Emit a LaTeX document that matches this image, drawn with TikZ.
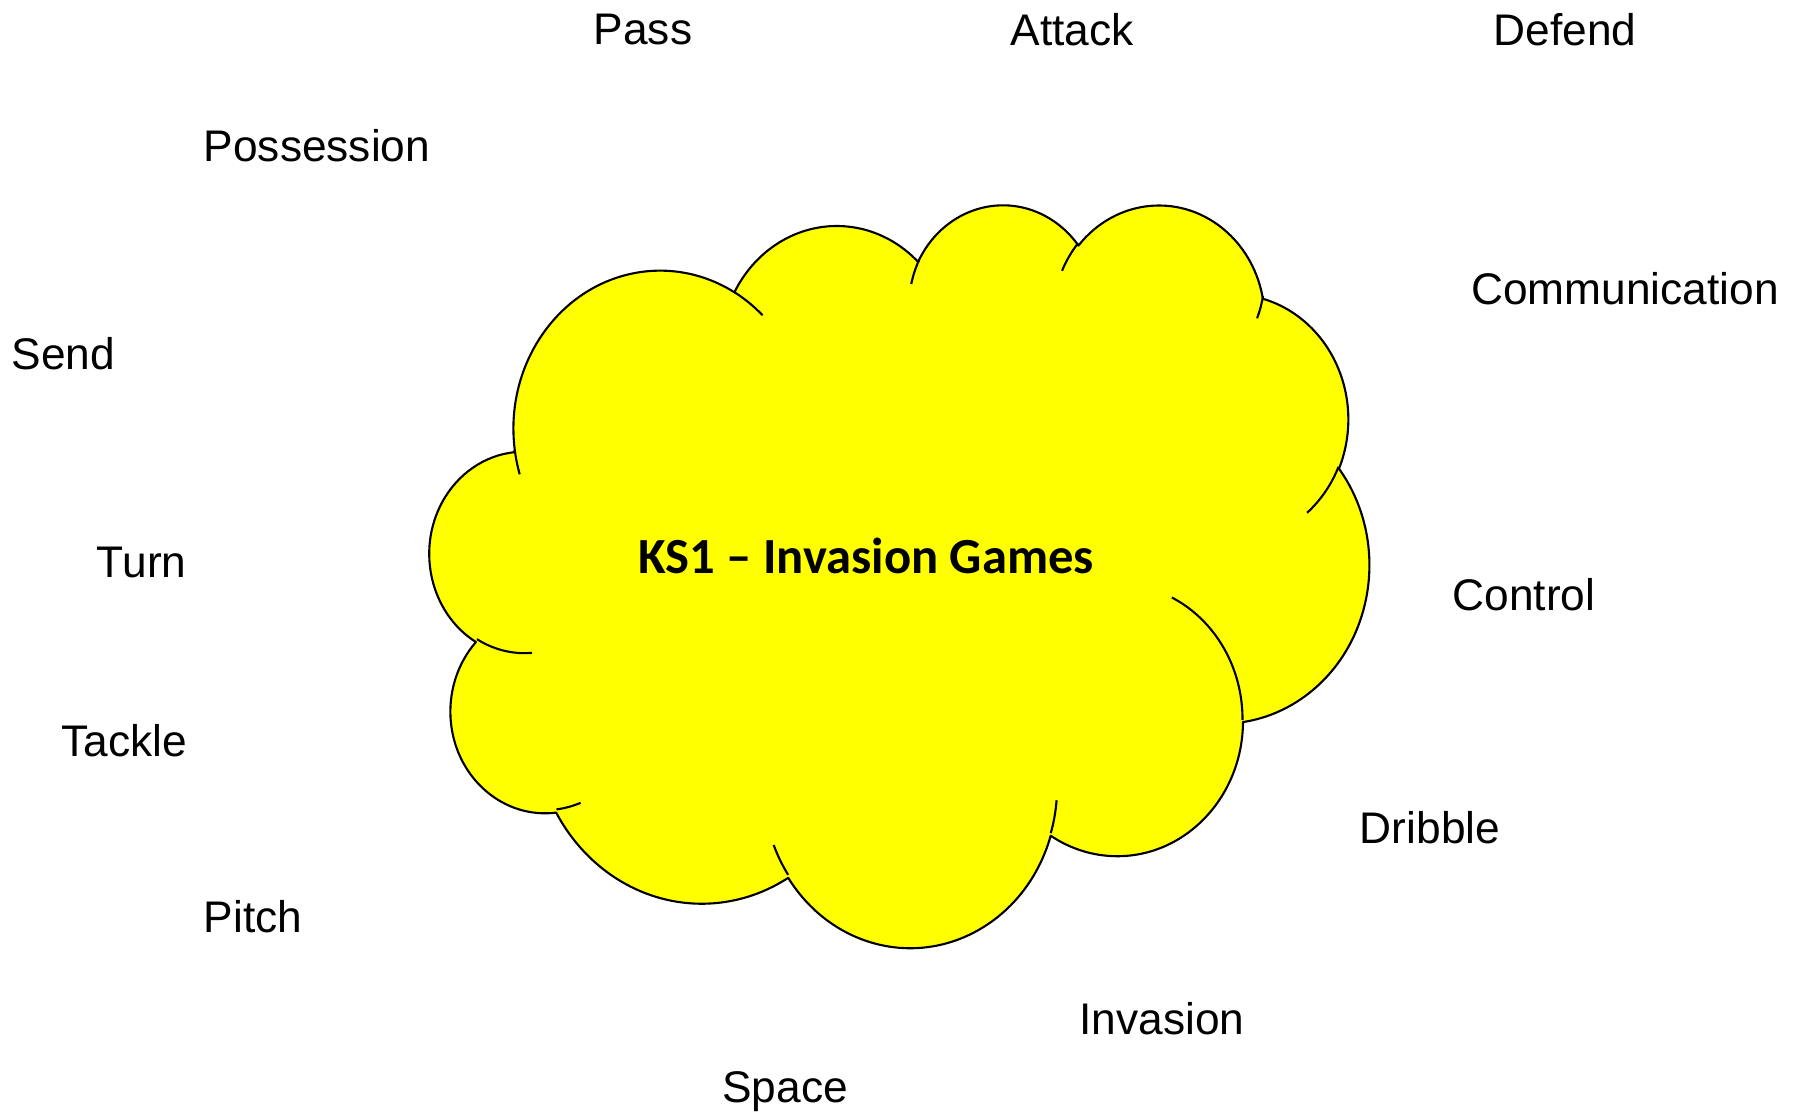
\documentclass[tikz,border=0pt]{standalone}
\usepackage{fontspec}
\setmainfont{Liberation Sans}
\newfontfamily\titlefont{Carlito}
\definecolor{cloudyellow}{RGB}{255,255,0}

\begin{document}
\begin{tikzpicture}[
  word/.style={inner sep=0pt, anchor=base, font=\fontsize{12.6pt}{15pt}\selectfont},
  topic/.style={inner sep=0pt, anchor=base, font=\titlefont\bfseries\fontsize{14.4pt}{17pt}\selectfont},
  cloudline/.style={draw=black, line width=0.6pt, line join=round}
]
\useasboundingbox (0,0) rectangle (18.09,11.15);

% cloud outline, box coordinates in thousandths
\begin{scope}[shift={(4.30,9.121)}, xscale=0.21736, yscale=-0.17190]
\filldraw[cloudline, fill=cloudyellow] (3.9,14.37)
  arc[start angle=-187.747, end angle=-59.634, x radius=6.753, y radius=9.19]
  arc[start angle=-152.025, end angle=-45.441, x radius=5.333, y radius=7.267]
  arc[start angle=-153.491, end angle=-37.313, x radius=4.365, y radius=5.945]
  arc[start angle=-139.714, end angle=-10.212, x radius=4.857, y radius=6.595]
  arc[start angle=-74.768, end angle=23.209, x radius=5.333, y radius=7.273]
  arc[start angle=-37.511, end angle=81.862, x radius=6.775, y radius=9.22]
  arc[start angle=0.460, end angle=121.977, x radius=5.785, y radius=7.867]
  arc[start angle=16.845, end angle=146.238, x radius=6.752, y radius=9.215]
  arc[start angle=58.989, end angle=150.185, x radius=7.72, y radius=10.543]
  arc[start angle=-276.694, end angle=-136.893, x radius=4.36, y radius=5.918]
  arc[start angle=-239.646, end angle=-95.887, x radius=4.345, y radius=5.945]
  -- cycle;
% inner arcs
\draw[cloudline]
  (4.693,26.177) arc[start angle=85.547, end angle=120.355, x radius=4.345, y radius=5.945]
  (6.928,34.899) arc[start angle=68.237, end angle=83.306, x radius=4.36, y radius=5.918]
  (16.478,39.09) arc[start angle=146.238, end angle=158.474, x radius=6.752, y radius=9.215]
  (28.827,34.751) arc[start angle=4.738, end angle=16.845, x radius=6.752, y radius=9.215]
  (34.129,22.954) arc[start angle=-64.029, end angle=0.460, x radius=5.785, y radius=7.867]
  (41.798,15.354) arc[start angle=23.209, end angle=49.639, x radius=5.333, y radius=7.273]
  (38.324,5.426) arc[start angle=10.212, end angle=21.880, x radius=4.857, y radius=6.595]
  (29.078,3.952) arc[start angle=-156.282, end angle=-139.714, x radius=4.857, y radius=6.595]
  (22.141,4.72) arc[start angle=-167.725, end angle=-153.491, x radius=4.365, y radius=5.945]
  (14.0,5.192) arc[start angle=-59.634, end angle=-45.733, x radius=6.753, y radius=9.19]
  (4.127,15.789) arc[start angle=163.192, end angle=172.254, x radius=6.753, y radius=9.19];
\end{scope}

\node[topic] (title) at (8.66,5.41) {KS1 – Invasion Games};

\node[word] (pass) at (6.43,10.70) {Pass};
\node[word] (attack) at (10.72,10.69) {Attack};
\node[word] (defend) at (15.65,10.69) {Defend};
\node[word] (possession) at (3.17,9.53) {Possession};
\node[word] (communication) at (16.25,8.10) {Communication};
\node[word] (send) at (0.635,7.45) {Send};
\node[word] (turn) at (1.417,5.37) {Turn};
\node[word] (control) at (15.24,5.04) {Control};
\node[word] (tackle) at (1.24,3.58) {Tackle};
\node[word] (dribble) at (14.30,2.71) {Dribble};
\node[word] (pitch) at (2.53,1.82) {Pitch};
\node[word] (invasion) at (11.62,0.80) {Invasion};
\node[word] (space) at (7.85,0.12) {Space};
\end{tikzpicture}
\end{document}
